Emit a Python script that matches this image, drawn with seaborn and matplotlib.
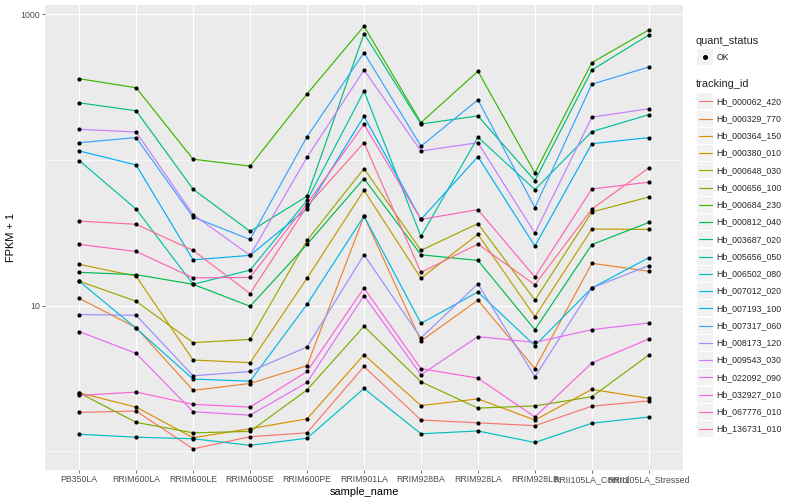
import numpy as np
import pandas as pd
import matplotlib
matplotlib.use("Agg")
import matplotlib.pyplot as plt
import seaborn as sns
from matplotlib.patches import Rectangle
from matplotlib.lines import Line2D
from matplotlib.ticker import FixedLocator, NullFormatter

sns.set_theme(style="darkgrid")
plt.rcParams['font.family'] = ['Liberation Sans', 'DejaVu Sans']

samples = ["PB350LA", "RRIM600LA", "RRIM600LE", "RRIM600SE", "RRIM600PE",
           "RRIM901LA", "RRIM928BA", "RRIM928LA", "RRIM928LB",
           "RRII105LA_Control", "RRII105LA_Stressed"]

tracking_ids = ["Hb_000062_420", "Hb_000329_770", "Hb_000364_150", "Hb_000380_010",
                "Hb_000648_030", "Hb_000656_100", "Hb_000684_230", "Hb_000812_040",
                "Hb_003687_020", "Hb_005656_050", "Hb_006502_080", "Hb_007012_020",
                "Hb_007193_100", "Hb_007317_060", "Hb_008173_120", "Hb_009543_030",
                "Hb_022092_090", "Hb_032927_010", "Hb_067776_010", "Hb_136731_010"]

# FPKM + 1 per sample (same order as samples)
Hb_000062_420 = [1.85, 1.89, 1.04, 1.26, 1.34, 3.82, 1.64, 1.57, 1.50, 2.04, 2.22]
Hb_000329_770 = [11.2, 7.06, 2.62, 2.92, 3.87, 41.1, 5.72, 10.9, 3.70, 19.5, 17.2]
Hb_000364_150 = [2.52, 2.01, 1.24, 1.43, 1.67, 4.60, 2.06, 2.29, 1.64, 2.66, 2.31]
Hb_000380_010 = [19.2, 15.9, 4.23, 4.06, 15.4, 61.8, 15.4, 30.8, 8.40, 33.5, 33.3]
Hb_000648_030 = [14.7, 10.7, 5.57, 5.86, 28.0, 87.1, 23.9, 36.5, 10.9, 43.8, 55.6]
Hb_000656_100 = [2.52, 1.58, 1.34, 1.37, 2.64, 7.21, 3.00, 1.98, 2.05, 2.37, 4.58]
Hb_000684_230 = [360, 312, 101, 90.4, 283, 826, 180, 405, 81.3, 464, 778]
Hb_000812_040 = [16.9, 16.3, 14.0, 9.89, 26.3, 74.4, 22.3, 20.4, 6.84, 26.2, 37.2]
Hb_003687_020 = [246, 217, 62.8, 32.3, 56.2, 734, 176, 200, 72.0, 413, 719]
Hb_005656_050 = [98.9, 45.9, 14.0, 17.5, 52.7, 296, 29.8, 143, 62.5, 156, 204]
Hb_006502_080 = [1.31, 1.25, 1.22, 1.10, 1.23, 2.70, 1.32, 1.38, 1.15, 1.56, 1.72]
Hb_007012_020 = [14.7, 6.98, 3.13, 3.03, 10.2, 41.1, 7.55, 12.4, 5.31, 13.2, 21.3]
Hb_007193_100 = [115, 92.2, 20.6, 22.1, 46.2, 199, 39.0, 105, 25.6, 129, 142]
Hb_007317_060 = [131, 142, 40.5, 28.4, 144, 543, 124, 258, 47.0, 330, 433]
Hb_008173_120 = [8.67, 8.58, 3.30, 3.53, 5.20, 22.3, 6.00, 14.1, 3.25, 13.2, 18.8]
Hb_009543_030 = [162, 155, 42.1, 22.1, 104, 413, 115, 131, 31.4, 196, 224]
Hb_022092_090 = [6.63, 4.70, 1.87, 1.77, 2.97, 11.7, 3.35, 6.12, 5.59, 6.84, 7.60]
Hb_032927_010 = [2.42, 2.55, 2.10, 2.01, 3.53, 13.2, 3.69, 3.18, 1.72, 4.04, 5.90]
Hb_067776_010 = [26.3, 23.5, 15.5, 15.6, 50.0, 175, 39.0, 45.5, 15.7, 63.1, 70.2]
Hb_136731_010 = [38.0, 36.1, 23.9, 12.1, 48.0, 131, 16.9, 26.4, 13.9, 45.9, 88.0]

series_values = [Hb_000062_420, Hb_000329_770, Hb_000364_150, Hb_000380_010,
                 Hb_000648_030, Hb_000656_100, Hb_000684_230, Hb_000812_040,
                 Hb_003687_020, Hb_005656_050, Hb_006502_080, Hb_007012_020,
                 Hb_007193_100, Hb_007317_060, Hb_008173_120, Hb_009543_030,
                 Hb_022092_090, Hb_032927_010, Hb_067776_010, Hb_136731_010]

quant_status = "OK"
y_major = [10, 1000]
y_major_labels = ["10", "1000"]
y_minor = [1, 100]

palette = ["#F8766D", "#EA8331", "#D89000", "#C09B00", "#A3A500", "#7CAE00",
           "#39B600", "#00BB4E", "#00BF7D", "#00C1A3", "#00BFC4", "#00BAE0",
           "#00B0F6", "#35A2FF", "#9590FF", "#C77CFF", "#E76BF3", "#FA62DB",
           "#FF62BC", "#FF6C91"]

rows = []
for tid, vals in zip(tracking_ids, series_values):
    for s, v in zip(samples, vals):
        rows.append({"tracking_id": tid, "sample_name": s, "fpkm1": v,
                     "quant_status": quant_status})
df = pd.DataFrame(rows)
df["xpos"] = df["sample_name"].map({s: i for i, s in enumerate(samples)})

W, H = 800, 500
fig = plt.figure(figsize=(8, 5), dpi=100)
ax = fig.add_axes([45 / W, 1 - 470 / H, (683 - 45) / W, (470 - 5) / H])
ax.set_facecolor("#EBEBEB")

sns.lineplot(data=df, x="xpos", y="fpkm1", hue="tracking_id", hue_order=tracking_ids,
             palette=palette, units="tracking_id", estimator=None, sort=False,
             linewidth=0.85, legend=False, ax=ax, zorder=2)
sns.scatterplot(data=df, x="xpos", y="fpkm1", color="black", s=9, linewidth=0,
                legend=False, ax=ax, zorder=3)

ax.set_yscale("log")
lo = np.log10(df["fpkm1"].min())
hi = np.log10(df["fpkm1"].max())
span = hi - lo
ax.set_ylim(10 ** (lo - 0.05 * span), 10 ** (hi + 0.05 * span))
ax.set_xlim(-0.6, len(samples) - 0.4)

ax.yaxis.set_major_locator(FixedLocator(y_major))
ax.set_yticklabels(y_major_labels)
ax.yaxis.set_minor_locator(FixedLocator(y_minor))
ax.yaxis.set_minor_formatter(NullFormatter())
ax.set_xticks(range(len(samples)))
ax.set_xticklabels(samples)

ax.grid(False)
ax.grid(which="major", axis="both", color="white", linewidth=0.85)
ax.grid(which="minor", axis="y", color="white", linewidth=0.45)
ax.set_axisbelow(True)
for sp in ax.spines.values():
    sp.set_visible(False)

ax.tick_params(which="major", length=2.0, width=0.5, color="#333333",
               labelsize=6.3, labelcolor="#4D4D4D", pad=1.5)
ax.tick_params(which="minor", length=0)
ax.tick_params(axis="x", bottom=True)
ax.tick_params(axis="y", left=True)

ax.set_xlabel("sample_name", fontsize=7.9, color="black", labelpad=2)
ax.set_ylabel("FPKM + 1", fontsize=7.9, color="black", labelpad=3)

# legends (ggplot style)
def fx(px):
    return px / W

def fy(py):
    return 1 - py / H

fig.text(fx(696), fy(40.7), "quant_status", fontsize=7.9, va="center", ha="left")
fig.add_artist(Rectangle((fx(697), fy(65.3)), 16 / W, 16 / H, transform=fig.transFigure,
                         facecolor="#F2F2F2", edgecolor="none"))
fig.add_artist(Line2D([fx(705)], [fy(57.3)], transform=fig.transFigure, marker="o",
                      markersize=2.6, color="black", linestyle="none"))
fig.text(fx(716.7), fy(57.3), quant_status, fontsize=6.3, va="center", ha="left")

fig.text(fx(696), fy(84.3), "tracking_id", fontsize=7.9, va="center", ha="left")
for i, (tid, col) in enumerate(zip(tracking_ids, palette)):
    cy = 101.3 + i * 17.25
    fig.add_artist(Rectangle((fx(697), fy(cy + 8)), 16 / W, 16 / H,
                             transform=fig.transFigure, facecolor="#F2F2F2",
                             edgecolor="none"))
    fig.add_artist(Line2D([fx(698.5), fx(711.5)], [fy(cy), fy(cy)],
                          transform=fig.transFigure, color=col, linewidth=0.85))
    fig.text(fx(716.7), fy(cy), tid, fontsize=6.3, va="center", ha="left")

fig.savefig("out.png", dpi=100)
